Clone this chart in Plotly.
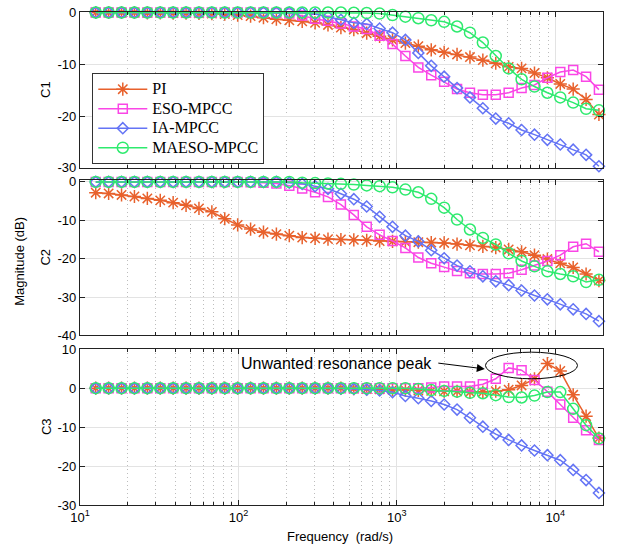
import plotly.graph_objects as go
from plotly.subplots import make_subplots

# frequency points (rad/s)
freq = [12.57, 15.16, 18.29, 22.06, 26.61, 32.10, 38.72, 46.71, 56.34, 67.96,
        81.98, 98.89, 119.3, 143.9, 173.6, 209.4, 252.6, 304.7, 367.5, 443.3,
        534.8, 645.1, 778.2, 938.7, 1132, 1366, 1648, 1988, 2398, 2893,
        3489, 4209, 5077, 6125, 7388, 8912, 10750, 12968, 15643, 18850]

series_names = ["PI", "ESO-MPCC", "IA-MPCC", "MAESO-MPCC"]

# C1 magnitudes (dB)
c1_pi = [0, 0, 0, 0, -0.05, -0.05, -0.1, -0.1, -0.15, -0.2,
         -0.3, -0.5, -0.7, -1.0, -1.3, -1.5, -1.7, -2.0, -2.4, -2.9,
         -3.3, -4.0, -4.6, -5.3, -5.9, -6.5, -7.2, -7.7, -8.1, -8.6,
         -9.2, -9.8, -10.5, -10.8, -11.7, -12.6, -13.8, -14.8, -16.8, -19.7]
c1_eso = [0, 0, 0, 0, 0, 0, 0, 0, 0, 0,
          0, 0, 0, 0, -0.1, -0.2, -0.6, -1.2, -1.6, -2.1,
          -2.7, -3.2, -4.5, -6.1, -8.4, -10.6, -12.1, -13.4, -14.8, -15.5,
          -15.9, -15.9, -15.5, -14.6, -14.0, -12.6, -11.5, -11.1, -12.4, -14.9]
c1_ia = [0, 0, 0, 0, 0, 0, 0, 0, 0, 0,
         0, 0, 0, 0, 0, 0, -0.1, -0.3, -0.8, -1.4,
         -2.0, -2.2, -3.1, -3.9, -5.3, -7.8, -10.3, -12.4, -14.6, -16.4,
         -18.5, -20.5, -21.4, -22.7, -23.6, -24.6, -25.5, -26.5, -27.5, -29.7]
c1_maeso = [0, 0, 0, 0, 0, 0, 0, 0, 0, 0,
            0, 0, 0, 0, 0, 0, 0, 0, 0, 0,
            -0.05, -0.1, -0.2, -0.5, -0.8, -1.1, -1.5, -1.8, -2.7, -3.9,
            -5.8, -8.4, -10.8, -12.9, -14.3, -15.5, -16.4, -17.4, -18.6, -18.9]

# C2 magnitudes (dB)
c2_pi = [-2.8, -3.0, -3.4, -3.8, -4.3, -4.8, -5.4, -6.1, -6.9, -7.8,
         -9.6, -11.2, -12.3, -13.1, -13.6, -14.0, -14.5, -14.7, -14.9, -15.0,
         -15.1, -15.2, -15.4, -15.5, -15.6, -15.7, -15.8, -15.9, -16.2, -16.5,
         -16.8, -17.1, -17.6, -18.2, -19.1, -20.1, -21.2, -22.3, -24.0, -25.7]
c2_eso = [0, 0, 0, 0, 0, 0, 0, 0, 0, 0,
          0, 0, -0.1, -0.2, -0.4, -1.0, -1.7, -2.7, -3.9, -5.9,
          -8.6, -11.7, -13.8, -15.4, -17.2, -19.7, -21.2, -22.2, -23.2, -23.8,
          -24.0, -24.0, -23.8, -22.9, -21.8, -20.6, -19.1, -16.9, -16.1, -18.2]
c2_ia = [0, 0, 0, 0, 0, 0, 0, 0, 0, 0,
         0, 0, 0, 0, 0, -0.2, -0.5, -1.1, -1.8, -3.1,
         -4.5, -6.4, -9.1, -11.7, -14.0, -15.5, -17.8, -19.9, -21.8, -23.3,
         -24.6, -25.9, -26.9, -28.3, -29.6, -30.6, -31.9, -33.2, -34.4, -36.3]
c2_maeso = [0, 0, 0, 0, 0, 0, 0, 0, 0, 0,
            0, 0, 0, 0, 0, 0, -0.2, -0.3, -0.4, -0.5,
            -0.7, -0.9, -1.1, -1.4, -2.0, -2.7, -4.4, -6.7, -9.8, -12.4,
            -14.6, -16.3, -18.6, -20.6, -22.0, -23.3, -24.0, -24.6, -26.1, -25.5]

# C3 magnitudes (dB)
c3_pi = [0, 0, 0, 0, 0, 0, 0, 0, 0, 0,
         0, 0, 0, 0, 0, 0, 0, 0, 0, 0,
         -0.1, -0.2, -0.3, -0.4, -0.5, -0.6, -0.7, -0.8, -0.8, -1.0,
         -1.0, -0.8, -0.4, 0.7, 2.4, 6.3, 4.4, -1.7, -7.2, -12.8]
c3_eso = [0, 0, 0, 0, 0, 0, 0, 0, 0, 0,
          0, 0, 0, 0, 0, 0, 0, 0, 0, 0,
          0, 0, 0, 0, 0, 0, 0.2, 0.4, 0.4, 0.4,
          1.0, 2.4, 5.2, 4.6, 2.1, -0.9, -4.2, -7.6, -10.8, -13.3]
c3_ia = [0, 0, 0, 0, 0, 0, 0, 0, 0, 0,
         0, 0, 0, 0, 0, 0, 0, 0, 0, -0.1,
         -0.2, -0.4, -0.6, -1.0, -2.0, -2.6, -3.3, -4.2, -5.5, -7.6,
         -9.9, -11.8, -13.3, -14.7, -16.0, -17.2, -18.5, -21.0, -23.6, -26.9]
c3_maeso = [0, 0, 0, 0, 0, 0, 0, 0, 0, 0,
            0, 0, 0, 0, 0, 0, 0, 0, 0, 0,
            0, 0, 0, 0, 0, -0.2, -0.5, -0.7, -0.9, -1.2,
            -1.3, -1.8, -2.3, -2.4, -1.9, -1.0, -1.0, -5.3, -9.5, -12.9]

# tick labels
x_tickvals = [10, 100, 1000, 10000]
x_ticktext = ["10<sup>1</sup>", "10<sup>2</sup>", "10<sup>3</sup>", "10<sup>4</sup>"]
y1_ticks = [-30, -20, -10, 0]
y2_ticks = [-40, -30, -20, -10, 0]
y3_ticks = [-30, -20, -10, 0, 10]

colors = ["#E8612C", "#FA46E6", "#6474F5", "#2EEA6E"]
symbols = ["asterisk-open", "square-open", "diamond-open", "circle-open"]
msizes = [11, 9, 8.5, 11]

rows_data = [
    [c1_pi, c1_eso, c1_ia, c1_maeso],
    [c2_pi, c2_eso, c2_ia, c2_maeso],
    [c3_pi, c3_eso, c3_ia, c3_maeso],
]

fig = make_subplots(rows=3, cols=1)

for r, row in enumerate(rows_data, start=1):
    for i, ys in enumerate(row):
        fig.add_trace(go.Scatter(
            x=freq, y=ys, mode="lines+markers",
            name='<span style="font-size:16px">%s</span>' % series_names[i],
            showlegend=(r == 1), legendgroup=series_names[i],
            line=dict(color=colors[i], width=1.5),
            marker=dict(symbol=symbols[i], size=msizes[i], color=colors[i],
                        line=dict(color=colors[i], width=1.5)),
            cliponaxis=False,
        ), row=r, col=1)

FONT = "Liberation Sans, Arial, sans-serif"
minor_vals = [m * 10 ** d for d in range(1, 5) for m in range(2, 10) if m * 10 ** d < 20000]

xcommon = dict(
    type="log", range=[1, 4.30103], showline=True, linecolor="#222", linewidth=1.3,
    mirror="ticks", ticks="inside", ticklen=5, tickcolor="#222",
    tickmode="array", tickvals=x_tickvals, ticktext=x_ticktext,
    showgrid=True, gridcolor="#E3E3E3", gridwidth=1, zeroline=False,
    minor=dict(tickmode="array", tickvals=minor_vals, ticks="inside", ticklen=3,
               tickcolor="#222", showgrid=True, gridcolor="#BDBDBD",
               griddash="1px,3px", gridwidth=1),
    tickfont=dict(family=FONT, size=13, color="black"),
)
fig.update_layout(
    xaxis=dict(**xcommon, showticklabels=False),
    xaxis2=dict(**xcommon, showticklabels=False),
    xaxis3=dict(**xcommon, showticklabels=True),
)

ycommon = dict(showline=True, linecolor="#222", linewidth=1.3, mirror="ticks",
               ticks="inside", ticklen=5, tickcolor="#222", showgrid=True,
               gridcolor="#E3E3E3", gridwidth=1, zeroline=False, tickmode="array",
               tickfont=dict(family=FONT, size=13, color="black"))
fig.update_layout(
    yaxis=dict(**ycommon, domain=[0.684, 1.0], range=[-30, 0.1],
               tickvals=y1_ticks, ticktext=[str(v) for v in y1_ticks]),
    yaxis2=dict(**ycommon, domain=[0.344, 0.66], range=[-40, 0.6],
                tickvals=y2_ticks, ticktext=[str(v) for v in y2_ticks]),
    yaxis3=dict(**ycommon, domain=[0.0, 0.316], range=[-30, 10],
                tickvals=y3_ticks, ticktext=[str(v) for v in y3_ticks]),
)

annots = [
    dict(text="C1", x=-0.065, y=0.842, textangle=-90),
    dict(text="C2", x=-0.065, y=0.502, textangle=-90),
    dict(text="C3", x=-0.065, y=0.158, textangle=-90),
    dict(text="Magnitude (dB)", x=-0.115, y=0.495, textangle=-90),
    dict(text="Frequency  (rad/s)", x=0.497, y=-0.064, textangle=0),
]
for a in annots:
    fig.add_annotation(xref="paper", yref="paper", showarrow=False,
                       xanchor="center", yanchor="middle",
                       font=dict(family=FONT, size=13, color="black"), **a)

# resonance annotation
fig.add_annotation(xref="paper", yref="paper", x=0.304, y=0.287, xanchor="left",
                   yanchor="middle", showarrow=False, text="Unwanted resonance peak",
                   font=dict(family=FONT, size=16, color="black"))
fig.add_annotation(xref="paper", yref="paper", x=0.774, y=0.276, text="",
                   showarrow=True, ax=-48, ay=-6, arrowhead=2, arrowsize=1.6,
                   arrowwidth=1, arrowcolor="black")
fig.add_shape(type="circle", xref="paper", yref="paper", x0=0.7753, x1=0.9512,
              y0=0.256, y1=0.31, line=dict(color="black", width=1))

fig.update_layout(
    width=619, height=552, margin=dict(l=80, r=16, t=5, b=47),
    paper_bgcolor="white", plot_bgcolor="white",
    legend=dict(x=0.0235, y=0.8754, xanchor="left", yanchor="top",
                bgcolor="white", bordercolor="#333", borderwidth=1,
                itemwidth=49,
                font=dict(family="Liberation Serif, Times New Roman, serif", size=12.7,
                          color="black"),
                tracegroupgap=0),
)

fig.write_html("out.html", config={"displayModeBar": False},
               post_script="document.body.style.margin='0px';")
